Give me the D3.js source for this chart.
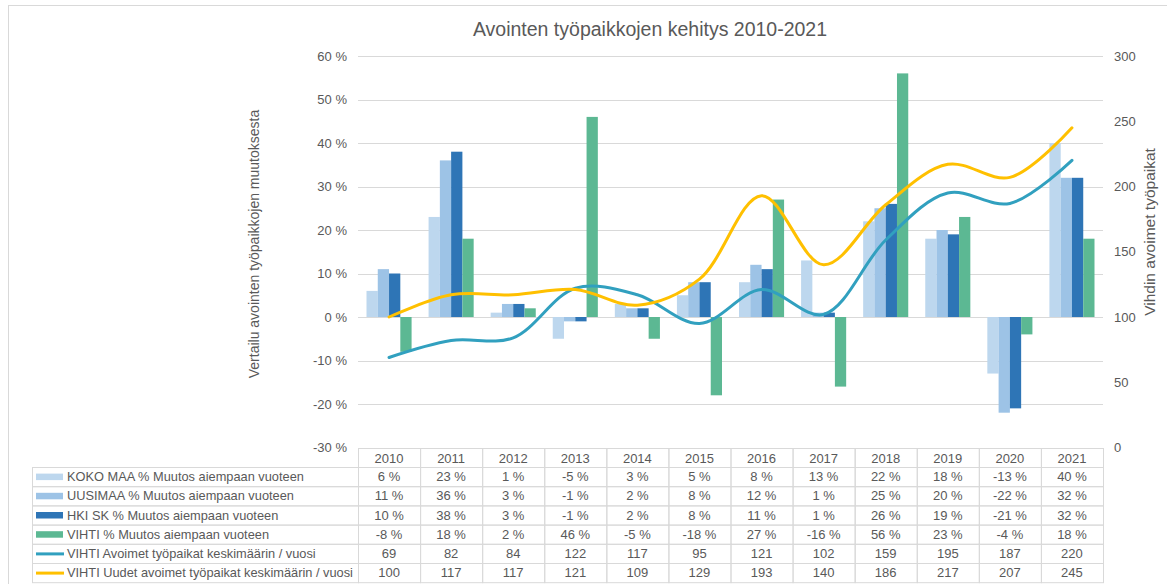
<!DOCTYPE html>
<html>
<head>
<meta charset="utf-8">
<script src="https://cdn.jsdelivr.net/npm/d3@7"></script>
<style>
  body { margin: 0; background: #fff; }
  text { font-family: "Liberation Sans", Arial, sans-serif; fill: #595959; }
</style>
</head>
<body>
<svg id="chart" width="1167" height="584"></svg>
<script>
// data
const years = ["2010","2011","2012","2013","2014","2015","2016","2017","2018","2019","2020","2021"];
const barSeries = ["KOKO MAA % Muutos aiempaan vuoteen", "UUSIMAA % Muutos aiempaan vuoteen",
                   "HKI SK % Muutos aiempaan vuoteen", "VIHTI % Muutos aiempaan vuoteen"];
const kokoMaa = [6, 23, 1, -5, 3, 5, 8, 13, 22, 18, -13, 40];
const uusimaa = [11, 36, 3, -1, 2, 8, 12, 1, 25, 20, -22, 32];
const hkiSk   = [10, 38, 3, -1, 2, 8, 11, 1, 26, 19, -21, 32];
const vihti   = [-8, 18, 2, 46, -5, -18, 27, -16, 56, 23, -4, 18];
const lineSeries = ["VIHTI Avoimet työpaikat keskimäärin / vuosi", "VIHTI Uudet avoimet työpaikat keskimäärin / vuosi"];
const avoimet = [69, 82, 84, 122, 117, 95, 121, 102, 159, 195, 187, 220];
const uudet   = [100, 117, 117, 121, 109, 129, 193, 140, 186, 217, 207, 245];
const leftTicks = [-30, -20, -10, 0, 10, 20, 30, 40, 50, 60];
const rightTicks = [0, 50, 100, 150, 200, 250, 300];

const barColors = ["#bdd7ee", "#9dc3e6", "#2e75b6", "#5cb893"];
const lineColors = ["#31a0bf", "#ffc000"];
const barValues = [kokoMaa, uusimaa, hkiSk, vihti];
const lineValues = [avoimet, uudet];

const svg = d3.select("#chart");
const grid = "#d9d9d9";

// outer frame
svg.append("rect").attr("x", 8.5).attr("y", 5.5).attr("width", 1170).attr("height", 600)
  .attr("fill", "none").attr("stroke", grid);

const x = d3.scaleBand().domain(years).range([358, 1103]);
const xb = d3.scaleBand().domain(d3.range(4)).range([8.5, x.bandwidth() - 8.5]);
const yL = d3.scaleLinear().domain([-30, 60]).range([447.5, 56]);
const yR = d3.scaleLinear().domain([0, 300]).range([447.5, 56]);

// title
svg.append("text").attr("x", 650).attr("y", 36).attr("text-anchor", "middle")
  .style("font-size", "19.5px").text("Avointen työpaikkojen kehitys 2010-2021");

// gridlines
svg.append("g").selectAll("line").data(leftTicks.filter(d => d > -30)).join("line")
  .attr("x1", 358).attr("x2", 1103)
  .attr("y1", d => Math.round(yL(d)) + 0.5).attr("y2", d => Math.round(yL(d)) + 0.5)
  .attr("stroke", grid).attr("stroke-width", 1);

// left axis labels
svg.append("g").selectAll("text").data(leftTicks).join("text")
  .attr("x", 347).attr("y", d => yL(d) + 4.5).attr("text-anchor", "end")
  .style("font-size", "13px").text(d => d + " %");

// right axis labels
svg.append("g").selectAll("text").data(rightTicks).join("text")
  .attr("x", 1114).attr("y", d => yR(d) + 4.5)
  .style("font-size", "13px").text(d => d);

// axis titles
svg.append("text").attr("transform", "translate(259,244) rotate(-90)").attr("text-anchor", "middle")
  .style("font-size", "14px").text("Vertailu avointen työpaikkojen muutoksesta");
svg.append("text").attr("transform", "translate(1155,232) rotate(-90)").attr("text-anchor", "middle")
  .style("font-size", "15.5px").text("Vihdin avoimet työpaikat");

// bars
barValues.forEach((vals, i) => {
  svg.append("g").selectAll("rect").data(vals).join("rect")
    .attr("x", (d, j) => x(years[j]) + xb(i))
    .attr("width", xb.bandwidth())
    .attr("y", d => Math.min(yL(d), yL(0)))
    .attr("height", d => Math.abs(yL(d) - yL(0)))
    .attr("fill", barColors[i]);
});

// smooth lines
const line = d3.line()
  .x((d, j) => x(years[j]) + x.bandwidth() / 2)
  .y(d => yR(d))
  .curve(d3.curveCatmullRom.alpha(0.5));
lineValues.forEach((vals, i) => {
  svg.append("path").datum(vals).attr("d", line)
    .attr("fill", "none").attr("stroke", lineColors[i]).attr("stroke-width", 3)
    .attr("stroke-linecap", "round");
});

// data table
const headTop = 448, rowTop = 467, rowH = 19.2, tableLeft = 32;
const tbl = svg.append("g");
// year header cells
tbl.selectAll(".yh").data(years).join("rect")
  .attr("x", d => x(d) + 0.5).attr("y", headTop + 0.5)
  .attr("width", x.bandwidth()).attr("height", rowTop - headTop)
  .attr("fill", "none").attr("stroke", grid);
tbl.selectAll(".yt").data(years).join("text")
  .attr("x", d => x(d) + x.bandwidth() / 2).attr("y", headTop + 14.5)
  .attr("text-anchor", "middle").style("font-size", "13px").text(d => d);

const rows = barSeries.map((name, i) => ({ name, vals: barValues[i], color: barColors[i], type: "bar", pct: true }))
  .concat(lineSeries.map((name, i) => ({ name, vals: lineValues[i], color: lineColors[i], type: "line", pct: false })));

rows.forEach((r, i) => {
  const top = rowTop + i * rowH;
  tbl.append("rect").attr("x", tableLeft + 0.5).attr("y", top + 0.5)
    .attr("width", 358 - tableLeft).attr("height", rowH)
    .attr("fill", "none").attr("stroke", grid);
  if (r.type === "bar") {
    tbl.append("rect").attr("x", 36).attr("y", top + rowH / 2 - 3).attr("width", 27).attr("height", 6.5).attr("fill", r.color);
  } else {
    tbl.append("line").attr("x1", 36).attr("x2", 64).attr("y1", top + rowH / 2 + 0.5).attr("y2", top + rowH / 2 + 0.5)
      .attr("stroke", r.color).attr("stroke-width", 3);
  }
  tbl.append("text").attr("x", 67).attr("y", top + rowH / 2 + 4.5)
    .style("font-size", "12.8px").text(r.name);
  tbl.selectAll(null).data(r.vals).join("rect")
    .attr("x", (d, j) => x(years[j]) + 0.5).attr("y", top + 0.5)
    .attr("width", x.bandwidth()).attr("height", rowH)
    .attr("fill", "none").attr("stroke", grid);
  tbl.selectAll(null).data(r.vals).join("text")
    .attr("x", (d, j) => x(years[j]) + x.bandwidth() / 2).attr("y", top + rowH / 2 + 4.5)
    .attr("text-anchor", "middle").style("font-size", "13px")
    .text(d => r.pct ? d + " %" : d);
});
</script>
</body>
</html>
